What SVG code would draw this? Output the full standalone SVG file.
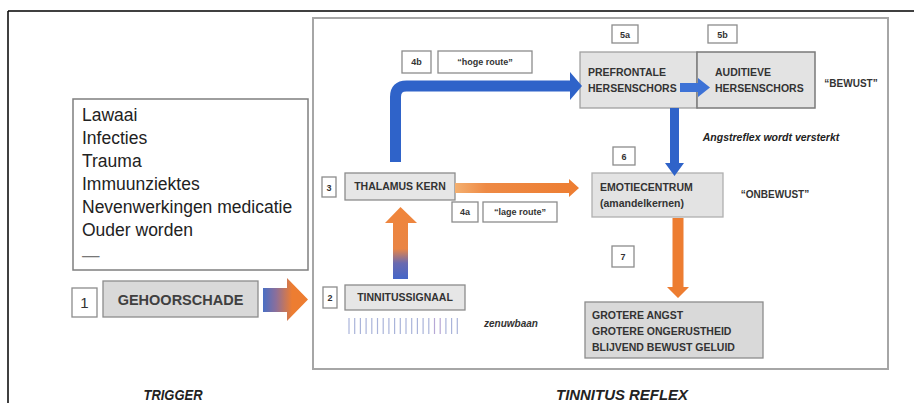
<svg xmlns="http://www.w3.org/2000/svg" width="914" height="403" viewBox="0 0 914 403">
<style>
  text { font-family: "Liberation Sans", Arial, sans-serif; fill: #262626; }
  .list { font-size: 17.5px; fill: #222; }
  .cap { font-size: 10.5px; font-weight: bold; fill: #333; }
  .num { font-size: 9px; font-weight: bold; fill: #333; text-anchor: middle; }
  .lbl { font-size: 9px; font-weight: bold; fill: #333; text-anchor: middle; }
  .note { font-size: 10px; font-weight: bold; fill: #333; text-anchor: middle; }
  .title { font-size: 14px; font-weight: bold; font-style: italic; fill: #222; text-anchor: middle; }
  .tag { fill: #ffffff; stroke: #8c8c8c; stroke-width: 1.3; }
  .gbox { fill: #e6e6e6; stroke: #8c8c8c; stroke-width: 1.3; }
  .blue { fill: #2f63c9; }
  .orange { fill: #ed7d31; }
  .tick { stroke: #aab4da; stroke-width: 1.2; }
</style>
<defs>
  <linearGradient id="g1" gradientUnits="userSpaceOnUse" x1="263" y1="0" x2="292" y2="0">
    <stop offset="0" stop-color="#4a6fc4"/>
    <stop offset="0.45" stop-color="#8c6f9a"/>
    <stop offset="1" stop-color="#ed7d31"/>
  </linearGradient>
  <linearGradient id="gup" gradientUnits="userSpaceOnUse" x1="0" y1="279" x2="0" y2="207">
    <stop offset="0" stop-color="#4466c8"/>
    <stop offset="0.22" stop-color="#6a6ab0"/>
    <stop offset="0.42" stop-color="#e98545"/>
    <stop offset="1" stop-color="#f0853a"/>
  </linearGradient>
  <linearGradient id="gor" gradientUnits="userSpaceOnUse" x1="455" y1="0" x2="579" y2="0">
    <stop offset="0" stop-color="#f4b070"/>
    <stop offset="0.25" stop-color="#ee8a45"/>
    <stop offset="1" stop-color="#ed7d31"/>
  </linearGradient>
</defs>

<!-- outer frame -->
<g id="frame">
  <line x1="8" y1="11" x2="914" y2="11" stroke="#000" stroke-width="1.5"/>
  <line x1="8" y1="11" x2="8" y2="403" stroke="#000" stroke-width="1.5"/>
  <rect x="313" y="18" width="575" height="351" fill="#ffffff" stroke="#a6a6a6" stroke-width="2"/>
</g>

<!-- trigger side -->
<g id="causes">
  <rect x="73" y="99" width="235" height="171" fill="#ffffff" stroke="#7f7f7f" stroke-width="1.5"/>
  <text class="list" x="82" y="121">Lawaai</text>
  <text class="list" x="82" y="144">Infecties</text>
  <text class="list" x="82" y="167">Trauma</text>
  <text class="list" x="82" y="190">Immuunziektes</text>
  <text class="list" x="82" y="213">Nevenwerkingen medicatie</text>
  <text class="list" x="82" y="236">Ouder worden</text>
  <text class="list" x="82" y="261" style="fill:#777">—</text>
</g>

<g id="n1">
  <rect class="tag" x="72" y="288" width="25" height="29"/>
  <text x="84.5" y="308" style="font-size:15px;fill:#333;text-anchor:middle">1</text>
  <rect x="103" y="281" width="155" height="36" fill="#d9d9d9" stroke="#8c8c8c" stroke-width="1.3"/>
  <text x="180.5" y="305" style="font-size:14.5px;font-weight:bold;fill:#404040;text-anchor:middle">GEHOORSCHADE</text>
</g>

<!-- tinnitus side nodes -->
<g id="n2">
  <rect class="tag" x="323" y="287" width="14" height="21"/>
  <text class="num" x="330" y="301">2</text>
  <rect class="gbox" x="345" y="285" width="120" height="25"/>
  <text class="cap" x="405" y="301" text-anchor="middle">TINNITUSSIGNAAL</text>
</g>

<g id="signal">
  <line class="tick" x1="349" y1="318" x2="349" y2="334"/>
  <line class="tick" x1="354.7" y1="318" x2="354.7" y2="334"/>
  <line class="tick" x1="360.4" y1="318" x2="360.4" y2="334"/>
  <line class="tick" x1="366.1" y1="318" x2="366.1" y2="334"/>
  <line class="tick" x1="371.8" y1="318" x2="371.8" y2="334"/>
  <line class="tick" x1="377.5" y1="318" x2="377.5" y2="334"/>
  <line class="tick" x1="383.2" y1="318" x2="383.2" y2="334"/>
  <line class="tick" x1="388.9" y1="318" x2="388.9" y2="334"/>
  <line class="tick" x1="394.6" y1="318" x2="394.6" y2="334"/>
  <line class="tick" x1="400.3" y1="318" x2="400.3" y2="334"/>
  <line class="tick" x1="406" y1="318" x2="406" y2="334"/>
  <line class="tick" x1="411.7" y1="318" x2="411.7" y2="334"/>
  <line class="tick" x1="417.4" y1="318" x2="417.4" y2="334"/>
  <line class="tick" x1="423.1" y1="318" x2="423.1" y2="334"/>
  <line class="tick" x1="428.8" y1="318" x2="428.8" y2="334"/>
  <line class="tick" x1="434.5" y1="318" x2="434.5" y2="334" style="stroke:#b6a8d6"/>
  <line class="tick" x1="440.2" y1="318" x2="440.2" y2="334" style="stroke:#b6a8d6"/>
  <line class="tick" x1="445.9" y1="318" x2="445.9" y2="334"/>
  <line class="tick" x1="451.6" y1="318" x2="451.6" y2="334"/>
  <line class="tick" x1="457.3" y1="318" x2="457.3" y2="334"/>
  <text x="511" y="327" style="font-size:10px;font-style:italic;font-weight:bold;fill:#333;text-anchor:middle">zenuwbaan</text>
</g>

<g id="n3">
  <rect class="tag" x="322" y="177" width="14" height="20"/>
  <text class="num" x="329" y="191">3</text>
  <rect class="gbox" x="345" y="173" width="110" height="27"/>
  <text class="cap" x="400" y="190" text-anchor="middle">THALAMUS KERN</text>
</g>

<g id="n4a">
  <rect class="tag" x="452" y="202" width="26" height="20"/>
  <text class="lbl" x="465" y="215">4a</text>
  <rect class="tag" x="483" y="202" width="74" height="20"/>
  <text class="lbl" x="520" y="215">“lage route”</text>
</g>

<g id="n4b">
  <rect class="tag" x="402" y="51" width="29" height="22"/>
  <text class="lbl" x="416.5" y="65">4b</text>
  <rect class="tag" x="438" y="51" width="94" height="22"/>
  <text class="lbl" x="485" y="65">“hoge route”</text>
</g>

<g id="n5a">
  <rect class="tag" x="612" y="25" width="26" height="18"/>
  <text class="lbl" x="625" y="37.5">5a</text>
  <rect x="580" y="52" width="117" height="56" fill="#e3e3e3" stroke="#a0a0a0" stroke-width="1.3"/>
  <text class="cap" x="588" y="76">PREFRONTALE</text>
  <text class="cap" x="588" y="92">HERSENSCHORS</text>
</g>

<g id="n5b">
  <rect class="tag" x="708" y="25" width="29" height="18"/>
  <text class="lbl" x="722.5" y="37.5">5b</text>
  <rect x="697" y="52" width="118" height="56" fill="#e3e3e3" stroke="#7a7a7a" stroke-width="1.5"/>
  <text class="cap" x="715" y="76">AUDITIEVE</text>
  <text class="cap" x="715" y="92">HERSENSCHORS</text>
  <text class="note" x="851" y="87">“BEWUST”</text>
</g>

<g id="n6">
  <rect class="tag" x="613" y="147" width="22" height="18"/>
  <text class="lbl" x="624" y="159.5">6</text>
  <rect x="592" y="173" width="131" height="44" fill="#e3e3e3" stroke="#b0b0b0" stroke-width="1.3"/>
  <text class="cap" x="600" y="191">EMOTIECENTRUM</text>
  <text class="cap" x="600" y="207">(amandelkernen)</text>
  <text class="note" x="775" y="198">“ONBEWUST”</text>
</g>

<g id="n7">
  <rect class="tag" x="612" y="246" width="22" height="21"/>
  <text class="lbl" x="623" y="260">7</text>
  <rect x="585" y="302" width="178" height="56" fill="#d9d9d9" stroke="#8c8c8c" stroke-width="1.3"/>
  <text class="cap" x="592" y="319">GROTERE ANGST</text>
  <text class="cap" x="592" y="335">GROTERE ONGERUSTHEID</text>
  <text class="cap" x="592" y="351">BLIJVEND BEWUST GELUID</text>
</g>

<!-- connectors -->
<g id="connectors">
  <polygon points="263,288 287,288 287,278 308,299.5 287,321 287,312 263,312" fill="url(#g1)"/>
  <polygon points="393,279 393,223 385,223 400.5,207 417,223 408,223 408,279" fill="url(#gup)"/>
  <polygon points="455,183 569,183 569,179 579,188 569,197 569,193 455,193" fill="url(#gor)"/>
  <path d="M 395.5 162 V 97 Q 395.5 86 406.5 86 H 571" fill="none" stroke="#2f63c9" stroke-width="11"/>
  <polygon class="blue" points="570,72 582,86 570,100"/>
  <polygon points="680,83 698,83 698,78 710,87.5 698,97 698,92 680,92" fill="#3d72d6"/>
  <polygon class="blue" points="670,108 679,108 679,163 684,163 674.5,176 665,163 670,163"/>
  <text x="771" y="141" style="font-size:10.5px;font-weight:bold;font-style:italic;fill:#222;text-anchor:middle">Angstreflex wordt versterkt</text>
  <polygon class="orange" points="672.5,218 683.5,218 683.5,287 689,287 678,298 667,287 672.5,287"/>
</g>

<g id="titles">
  <text class="title" x="173" y="400" textLength="59" lengthAdjust="spacingAndGlyphs">TRIGGER</text>
  <text class="title" x="622" y="400" textLength="132" lengthAdjust="spacingAndGlyphs">TINNITUS REFLEX</text>
</g>
</svg>
